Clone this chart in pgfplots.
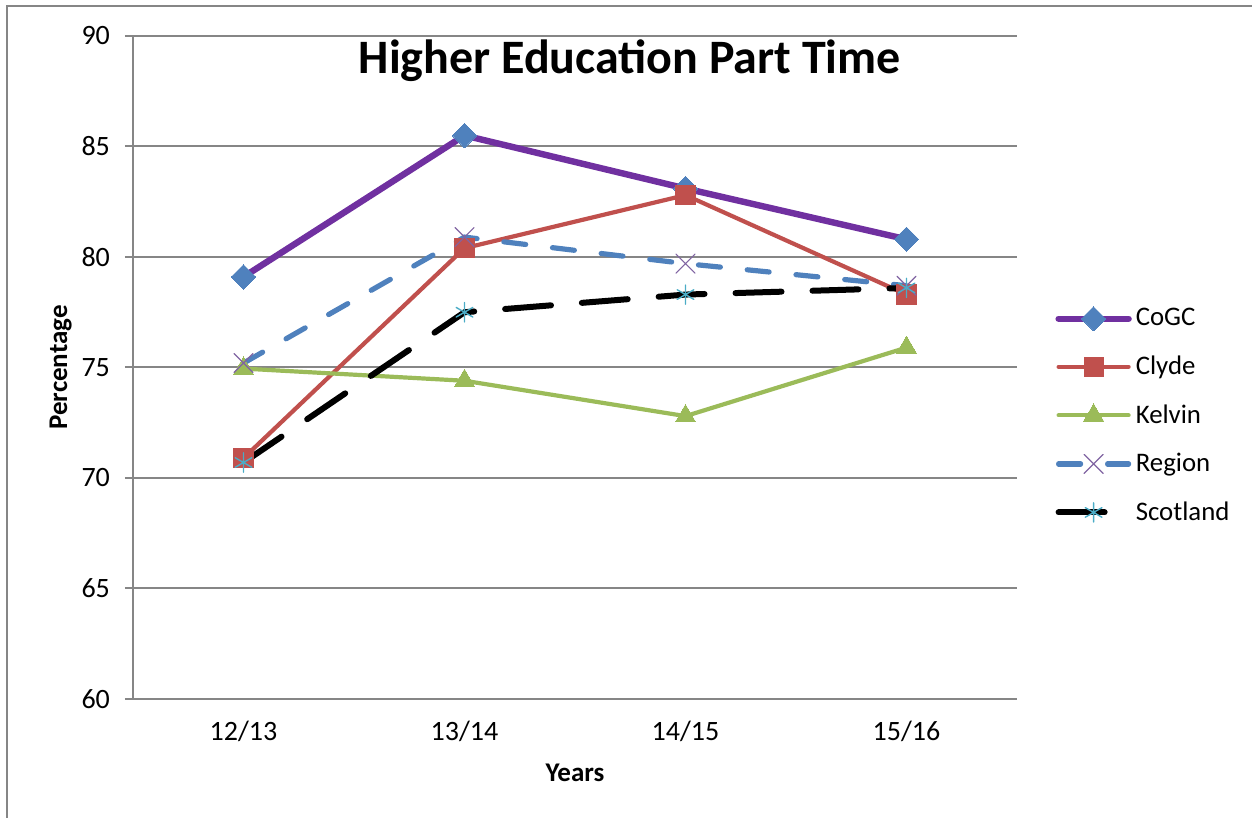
\documentclass[border=0pt]{standalone}
\usepackage{pgfplots}
\pgfplotsset{compat=1.18}
\usepackage{fontspec}
\setmainfont{Carlito}
\definecolor{cogc}{HTML}{7030A0}
\definecolor{mblue}{HTML}{4F81BD}
\definecolor{clyde}{HTML}{C0504D}
\definecolor{kelvin}{HTML}{9BBB59}
\definecolor{regx}{HTML}{8064A2}
\definecolor{scotm}{HTML}{4BACC6}
\definecolor{gridc}{HTML}{868686}
\begin{document}
\begin{tikzpicture}
\path[use as bounding box] (0,0) rectangle (626pt,409pt);
\draw[gridc, line width=1pt] (3.5pt,0) -- (3.5pt,406pt) -- (626pt,406pt);
\begin{axis}[
  at={(66.5pt,59.5pt)}, anchor=south west,
  scale only axis, width=442pt, height=331.5pt,
  xmin=-0.5, xmax=3.5, ymin=60, ymax=90,
  axis x line*=bottom, axis y line*=left,
  axis line style={gridc, line width=1pt, -},
  xtick={0,1,2,3}, xticklabels={12/13,13/14,14/15,15/16},
  major x tick style={draw=none},
  extra x ticks={-0.5,0.5,1.5,2.5,3.5}, extra x tick labels={},
  extra x tick style={major tick length=8pt, tick style={gridc, line width=1pt}, tick align=outside, grid=none},
  ytick={60,65,...,90},
  ymajorgrids, grid style={gridc, line width=1pt},
  y tick style={gridc, line width=1pt},
  tick align=outside, major tick length=4pt,
  /pgf/number format/assume math mode=true,
  tick label style={font=\fontsize{14}{16}\selectfont, black},
  xticklabel style={yshift=-3.5pt},
  yticklabel style={xshift=-4pt},
  xlabel={\textbf{Years}}, ylabel={\textbf{Percentage}},
  xlabel style={yshift=7.5pt},
  ylabel style={yshift=-2pt},
  label style={font=\fontsize{13.5}{15}\selectfont},
  title={\textbf{Higher Education Part Time}},
  title style={at={(0.562,0.967)}, anchor=center, yshift=-7.5pt, font=\fontsize{24}{28}\selectfont},
  legend style={at={(1,0.43)}, anchor=west, xshift=16pt, yshift=-1pt, draw=none, fill=none,
    font=\fontsize{13.4}{15}\selectfont, row sep=9.5pt},
  legend cell align=left,
  legend image code/.code={\draw[mark repeat=2,mark phase=2] plot coordinates {(0pt,0pt) (17.5pt,0pt) (35pt,0pt)};},
]
\addplot[cogc, line width=3.2pt, line cap=round, mark=square*, mark size=4.3pt,
  mark options={rotate=45, fill=mblue, draw=mblue, line width=0pt, solid}]
  coordinates {(0,79.1) (1,85.5) (2,83.1) (3,80.8)};
\addlegendentry{CoGC}
\addplot[clyde, line width=2.1pt, line cap=round, mark=square*, mark size=4.8pt,
  mark options={fill=clyde, draw=clyde, line width=0pt, solid}]
  coordinates {(0,70.9) (1,80.4) (2,82.8) (3,78.3)};
\addlegendentry{Clyde}
\addplot[kelvin, line width=2.1pt, line cap=round, mark=triangle*, mark size=5.8pt,
  mark options={fill=kelvin, draw=kelvin, line width=0pt, solid}]
  coordinates {(0,74.95) (1,74.4) (2,72.8) (3,75.9)};
\addlegendentry{Kelvin}
\addplot[mblue, line width=2.6pt, line cap=round, dash pattern=on 11pt off 13.5pt, mark=x, mark size=6.7pt,
  mark options={draw=regx, line width=0.6pt, solid}]
  coordinates {(0,75.2) (1,80.9) (2,79.7) (3,78.7)};
\addlegendentry{Region}
\addplot[black, line width=3pt, line cap=round, dash pattern=on 23pt off 15.5pt, mark=asterisk, mark size=4.8pt,
  mark options={draw=scotm, line width=0.7pt, solid}]
  coordinates {(0,70.7) (1,77.5) (2,78.3) (3,78.6)};
\addlegendentry{Scotland}
\end{axis}
\end{tikzpicture}
\end{document}
